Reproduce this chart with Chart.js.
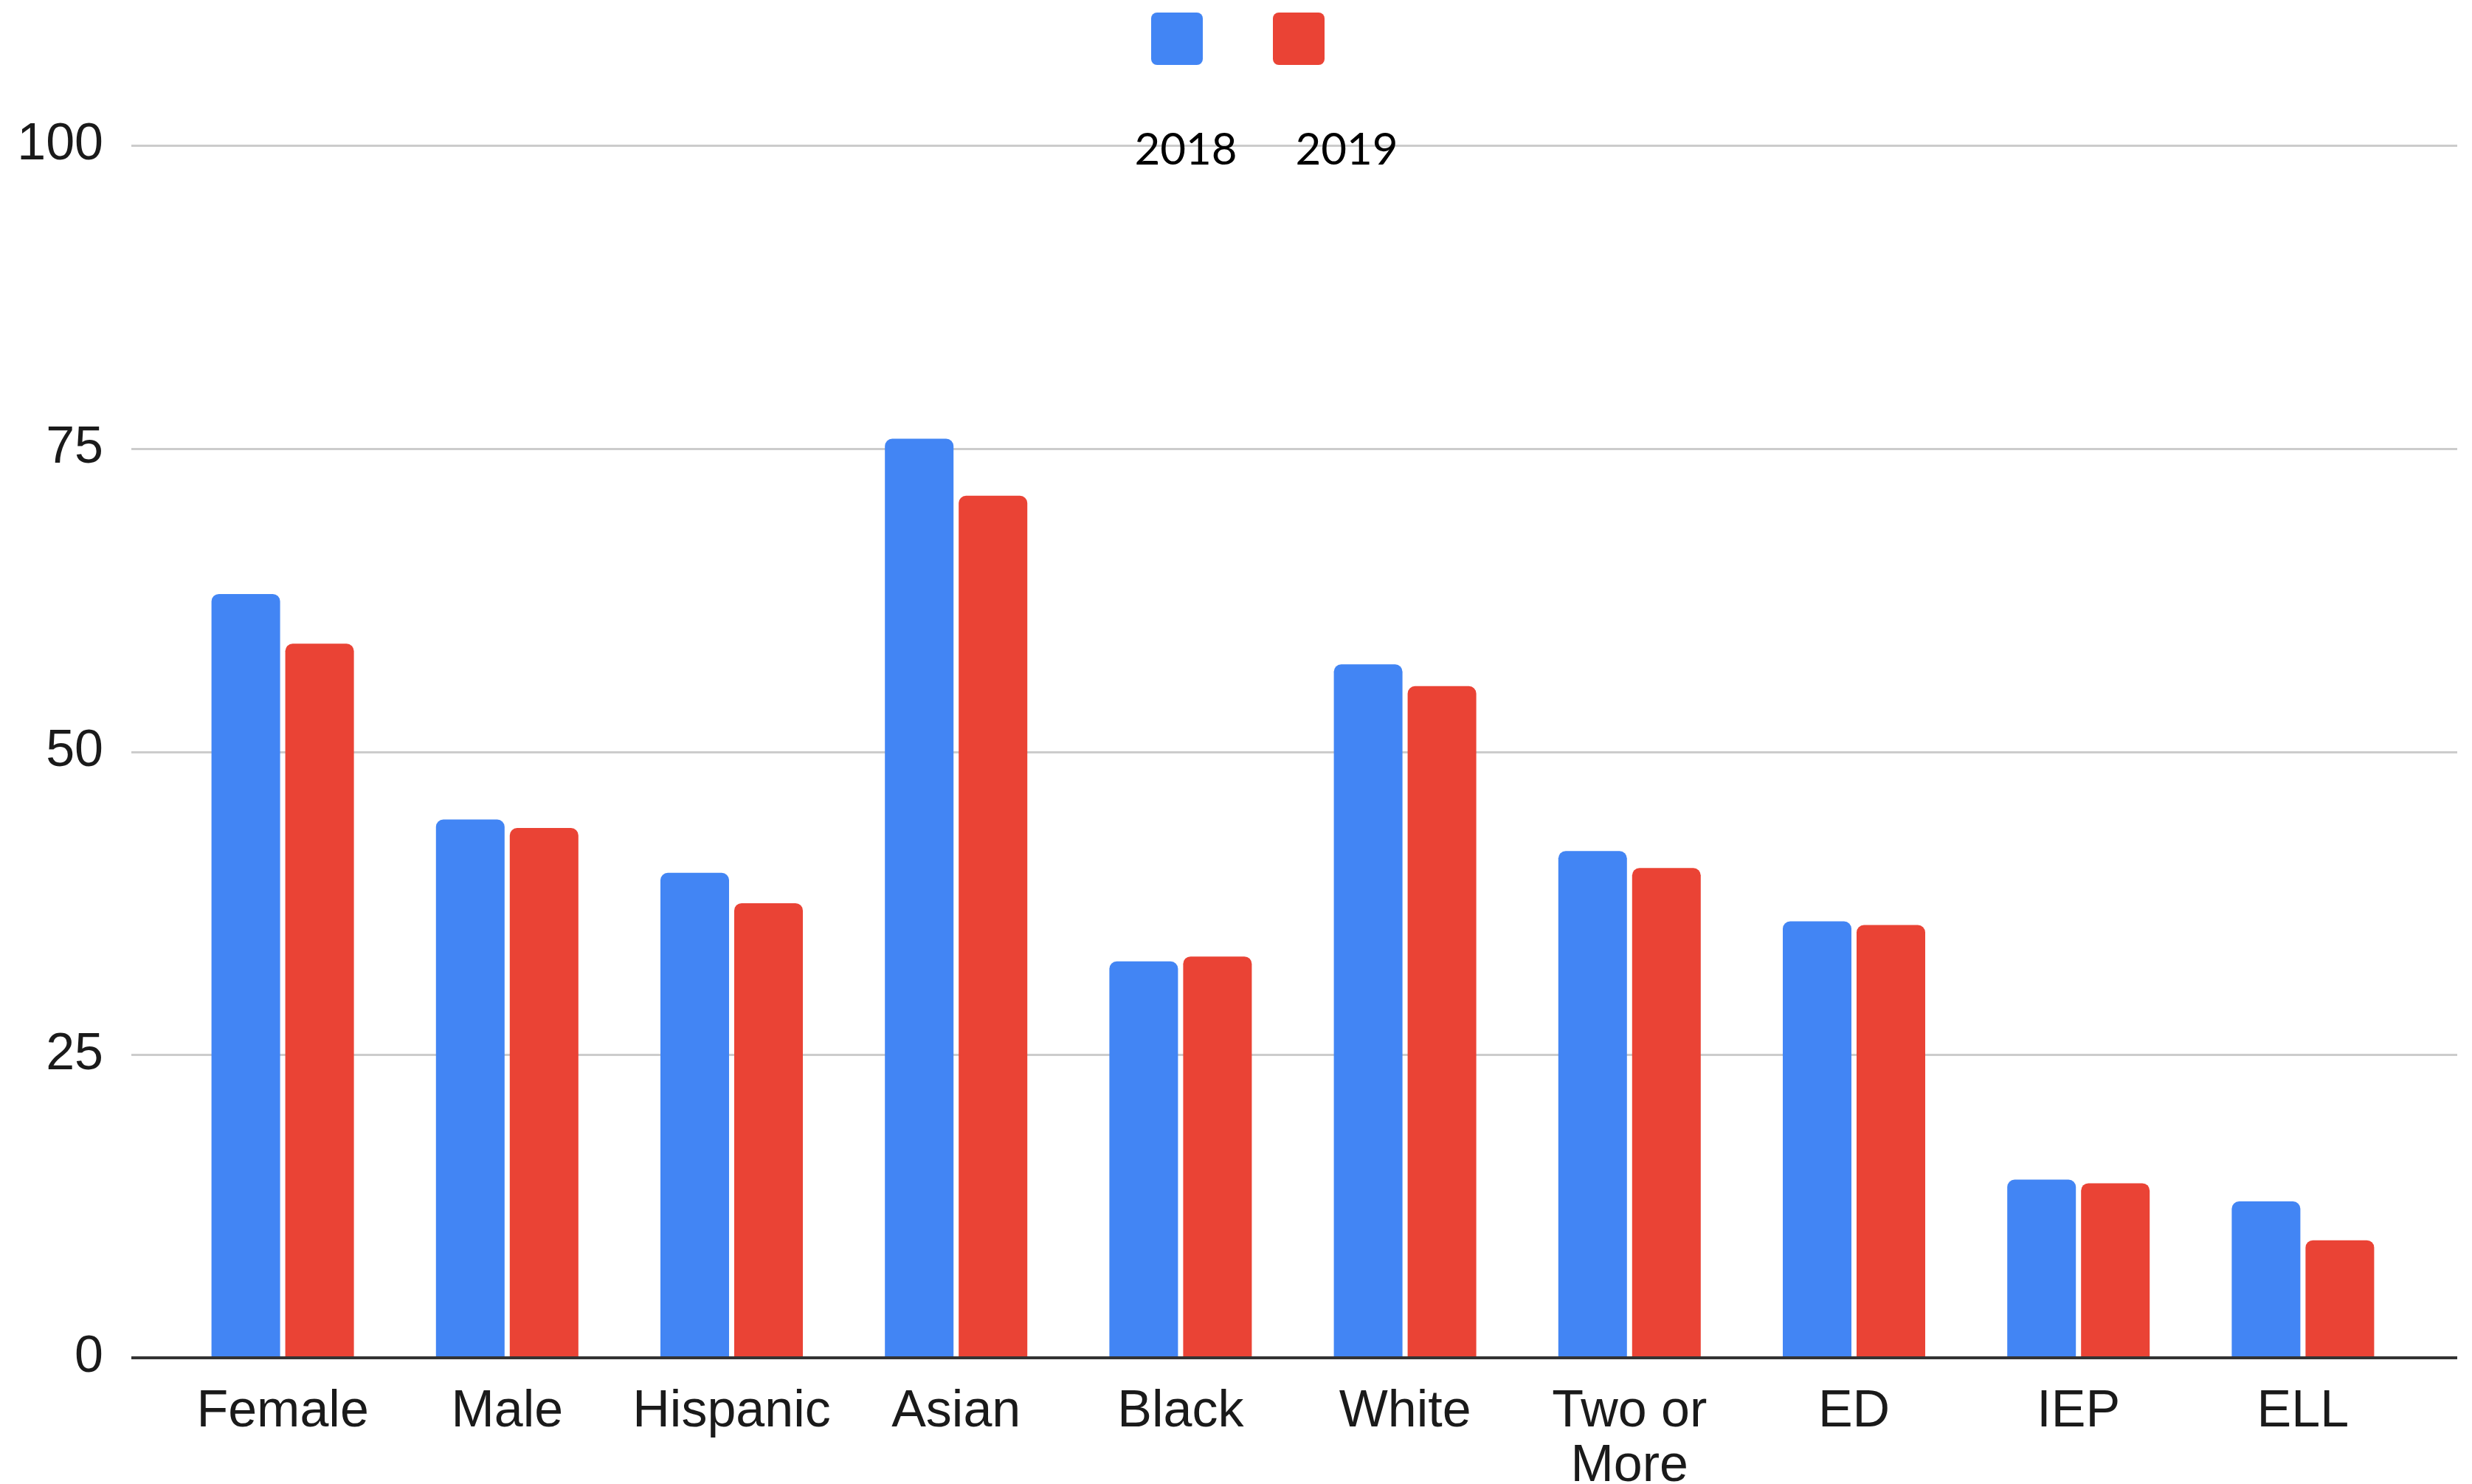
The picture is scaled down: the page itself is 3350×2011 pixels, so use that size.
<!DOCTYPE html>
<html lang="en">
<head>
  <meta charset="UTF-8">
  <title>2018 vs 2019 by group</title>
  <script src="https://cdn.jsdelivr.net/npm/chart.js"></script>
  <style>
    body {
      margin: 0;
      padding: 0;
      background-color: #fff;
    }
    canvas {
      display: block;
    }
  </style>
</head>
<body>
  <canvas id="groupChart" width="3350" height="2011"></canvas>

  <script>
    // Data
    const categories = ["Female", "Male", "Hispanic", "Asian", "Black", "White", ["Two or", "More"], "ED", "IEP", "ELL"];
    const values2018 = [63.0, 44.4, 40.0, 75.8, 32.7, 57.2, 41.8, 36.0, 14.7, 12.9];
    const values2019 = [58.9, 43.7, 37.5, 71.1, 33.1, 55.4, 40.4, 35.7, 14.4, 9.7];
    const seriesLabels = ["2018", "2019"];
    const yTicks = [0, 25, 50, 75, 100];

    const blue = "#4285F4";
    const red = "#EA4335";
    const axisFont = "'Liberation Sans', Arial, sans-serif";

    // Gridlines + baseline run a little past the category area, like the original
    const gridLeft = 178;
    const gridRight = 3330;

    const gridPlugin = {
      id: "wideGrid",
      beforeDatasetsDraw(chart) {
        const ctx = chart.ctx;
        const y = chart.scales.y;
        ctx.save();
        ctx.strokeStyle = "#cccccc";
        ctx.lineWidth = 3;
        yTicks.forEach(v => {
          if (v === 0) return;
          const py = Math.round(y.getPixelForValue(v)) + 0.5;
          ctx.beginPath();
          ctx.moveTo(gridLeft, py);
          ctx.lineTo(gridRight, py);
          ctx.stroke();
        });
        ctx.restore();
      },
      afterDatasetsDraw(chart) {
        const ctx = chart.ctx;
        const py = chart.scales.y.getPixelForValue(0);
        ctx.save();
        ctx.strokeStyle = "#333333";
        ctx.lineWidth = 4;
        ctx.beginPath();
        ctx.moveTo(gridLeft, py);
        ctx.lineTo(gridRight, py);
        ctx.stroke();
        ctx.restore();
      }
    };

    // Legend: swatches on top, year labels below them
    const legendPlugin = {
      id: "topLegend",
      afterDraw(chart) {
        const ctx = chart.ctx;
        const boxX = [1560, 1725];
        const textX = [1607, 1825];
        ctx.save();
        chart.data.datasets.forEach((ds, i) => {
          ctx.fillStyle = ds.backgroundColor;
          ctx.beginPath();
          ctx.roundRect(boxX[i], 17, 70, 71, 8);
          ctx.fill();
          ctx.fillStyle = "#000";
          ctx.font = "60px Lato, 'Open Sans', sans-serif";
          ctx.textAlign = "center";
          ctx.textBaseline = "alphabetic";
          ctx.fillText(ds.label, textX[i], 223);
        });
        ctx.restore();
      }
    };

    const ctx = document.getElementById("groupChart").getContext("2d");
    const groupChart = new Chart(ctx, {
      type: "bar",
      data: {
        labels: categories,
        datasets: [
          {
            label: seriesLabels[0],
            data: values2018,
            backgroundColor: blue,
            borderRadius: 10,
            categoryPercentage: 0.6575,
            barPercentage: 0.93
          },
          {
            label: seriesLabels[1],
            data: values2019,
            backgroundColor: red,
            borderRadius: 10,
            categoryPercentage: 0.6575,
            barPercentage: 0.93
          }
        ]
      },
      options: {
        responsive: false,
        animation: false,
        devicePixelRatio: 1,
        layout: {
          padding: { top: 197, right: 77, left: 0, bottom: 0 }
        },
        plugins: {
          legend: { display: false },
          tooltip: { enabled: false }
        },
        scales: {
          x: {
            grid: { display: false, drawTicks: false },
            border: { display: false },
            ticks: {
              padding: 37,
              color: "#1a1a1a",
              maxRotation: 0,
              autoSkip: false,
              font: { family: axisFont, size: 70, lineHeight: 1.05 }
            },
            afterFit(scale) { scale.height = 171; }
          },
          y: {
            min: 0,
            max: 100,
            grid: { display: false, drawTicks: false },
            border: { display: false },
            afterBuildTicks(scale) {
              scale.ticks = yTicks.map(v => ({ value: v }));
            },
            ticks: {
              padding: 91,
              color: "#1a1a1a",
              font: { family: axisFont, size: 70 }
            },
            afterFit(scale) { scale.width = 231; }
          }
        }
      },
      plugins: [gridPlugin, legendPlugin]
    });
  </script>
</body>
</html>
